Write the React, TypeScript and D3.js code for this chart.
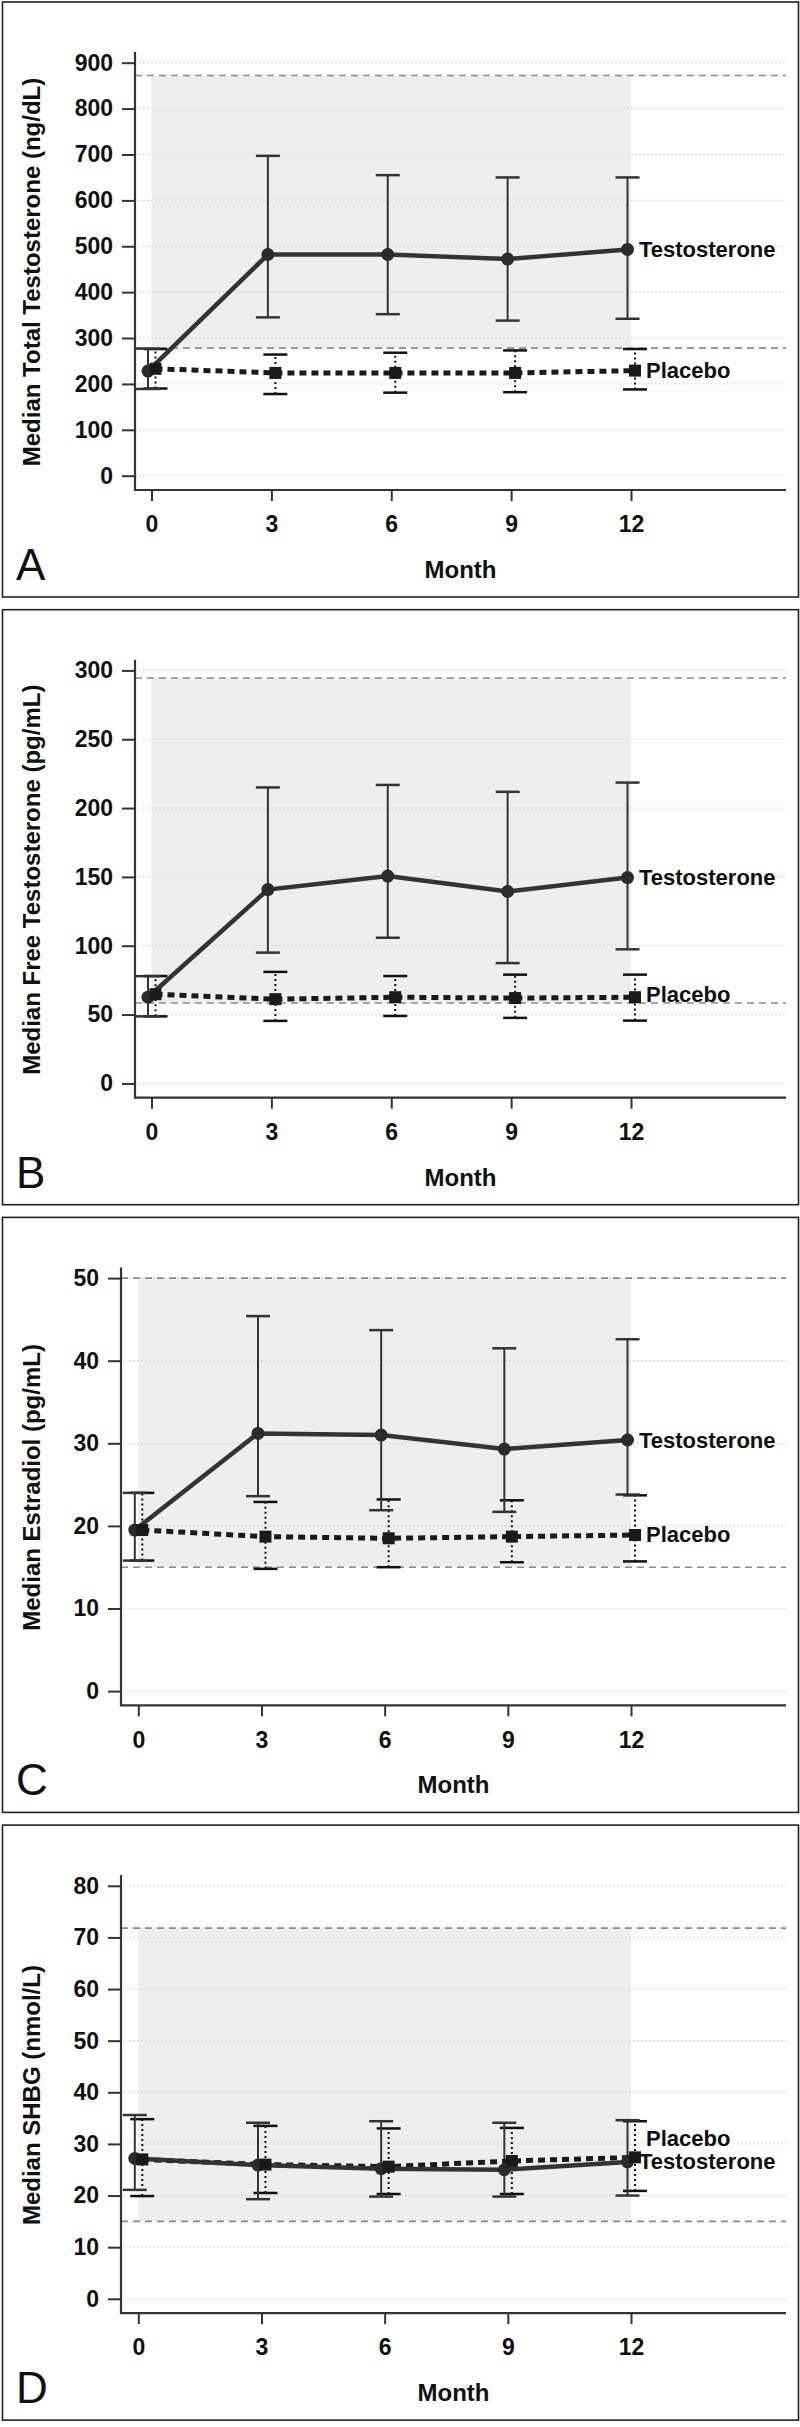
import { useEffect, useRef } from "react";
import * as d3 from "d3";

// shared x categories
const months = [0, 3, 6, 9, 12];

// A - total testosterone (ng/dL)
const totalTestosterone = [228, 482, 482, 472, 493];
const totalTestosteroneLow = [189, 345, 352, 338, 342];
const totalTestosteroneHigh = [277, 697, 655, 650, 650];
const totalPlacebo = [233, 224, 224, 224, 229];
const totalPlaceboLow = [190, 178, 181, 182, 188];
const totalPlaceboHigh = [276, 264, 268, 273, 276];
const totalRefRange = [278, 872];
const totalTicks = [0, 100, 200, 300, 400, 500, 600, 700, 800, 900];

// B - free testosterone (pg/mL)
const freeTestosterone = [62.6, 140.8, 150.6, 139.4, 149.5];
const freeTestosteroneLow = [48.7, 95, 105.8, 87.4, 97.4];
const freeTestosteroneHigh = [77.9, 215, 216.8, 211.8, 218.5];
const freePlacebo = [64.8, 61.2, 62.6, 62, 62.6];
const freePlaceboLow = [48.7, 45.4, 49, 47.6, 45.6];
const freePlaceboHigh = [78, 81, 78, 79, 79];
const freeRefRange = [58.4, 294.5];
const freeTicks = [0, 50, 100, 150, 200, 250, 300];

// C - estradiol (pg/mL)
const estradiolTestosterone = [19.5, 31.2, 31.0, 29.3, 30.4];
const estradiolTestosteroneLow = [15.8, 23.6, 21.9, 21.7, 23.8];
const estradiolTestosteroneHigh = [24.0, 45.4, 43.7, 41.5, 42.6];
const estradiolPlacebo = [19.5, 18.7, 18.5, 18.7, 18.9];
const estradiolPlaceboLow = [15.8, 14.8, 15.0, 15.6, 15.7];
const estradiolPlaceboHigh = [24.0, 22.9, 23.2, 23.1, 23.7];
const estradiolRefRange = [15, 50];
const estradiolTicks = [0, 10, 20, 30, 40, 50];

// D - SHBG (nmol/L)
const shbgTestosterone = [27.2, 25.9, 25.2, 25.0, 26.5];
const shbgTestosteroneLow = [21.1, 19.3, 19.8, 19.8, 20.0];
const shbgTestosteroneHigh = [35.6, 34.1, 34.4, 34.1, 34.6];
const shbgPlacebo = [27.0, 26.0, 25.6, 26.7, 27.4];
const shbgPlaceboLow = [19.9, 20.5, 20.3, 20.3, 20.9];
const shbgPlaceboHigh = [34.8, 33.5, 33.0, 33.1, 34.4];
const shbgRefRange = [15, 71.8];
const shbgTicks = [0, 10, 20, 30, 40, 50, 60, 70, 80];

// where the end labels sit (value units)
const labelTestosterone = [493, 149.5, 30.4, 26.6];
const labelPlacebo = [231, 64.8, 19, 31.1];

const panelLetters = ["A", "B", "C", "D"];
const yTitles = [
  "Median Total Testosterone (ng/dL)",
  "Median Free Testosterone (pg/mL)",
  "Median Estradiol (pg/mL)",
  "Median SHBG (nmol/L)",
];

const FONT = "'Liberation Sans', Arial, Helvetica, sans-serif";

interface Panel {
  letter: string;
  title: string;
  ticks: number[];
  ref: number[];
  t: number[];
  tLow: number[];
  tHigh: number[];
  p: number[];
  pLow: number[];
  pHigh: number[];
  labelT: number;
  labelP: number;
  narrow: boolean;
}

const panels: Panel[] = [
  {
    letter: panelLetters[0], title: yTitles[0], ticks: totalTicks, ref: totalRefRange,
    t: totalTestosterone, tLow: totalTestosteroneLow, tHigh: totalTestosteroneHigh,
    p: totalPlacebo, pLow: totalPlaceboLow, pHigh: totalPlaceboHigh,
    labelT: labelTestosterone[0], labelP: labelPlacebo[0], narrow: false,
  },
  {
    letter: panelLetters[1], title: yTitles[1], ticks: freeTicks, ref: freeRefRange,
    t: freeTestosterone, tLow: freeTestosteroneLow, tHigh: freeTestosteroneHigh,
    p: freePlacebo, pLow: freePlaceboLow, pHigh: freePlaceboHigh,
    labelT: labelTestosterone[1], labelP: labelPlacebo[1], narrow: false,
  },
  {
    letter: panelLetters[2], title: yTitles[2], ticks: estradiolTicks, ref: estradiolRefRange,
    t: estradiolTestosterone, tLow: estradiolTestosteroneLow, tHigh: estradiolTestosteroneHigh,
    p: estradiolPlacebo, pLow: estradiolPlaceboLow, pHigh: estradiolPlaceboHigh,
    labelT: labelTestosterone[2], labelP: labelPlacebo[2], narrow: true,
  },
  {
    letter: panelLetters[3], title: yTitles[3], ticks: shbgTicks, ref: shbgRefRange,
    t: shbgTestosterone, tLow: shbgTestosteroneLow, tHigh: shbgTestosteroneHigh,
    p: shbgPlacebo, pLow: shbgPlaceboLow, pHigh: shbgPlaceboHigh,
    labelT: labelTestosterone[3], labelP: labelPlacebo[3], narrow: true,
  },
];

const PANEL_STEP = 607.7;
const RIGHT = 786;

const drawPanel = (
  svg: d3.Selection<SVGSVGElement, unknown, null, undefined>,
  p: Panel,
  top: number,
) => {
  const g = svg.append("g").attr("transform", `translate(0,${top})`);
  const axisX = p.narrow ? 121 : 135;
  const x = d3
    .scaleLinear()
    .domain([0, 12])
    .range(p.narrow ? [138.3, 631] : [151.5, 631]);
  const yMax = p.ticks[p.ticks.length - 1];
  const y = d3.scaleLinear().domain([0, yMax]).range([473.7, 60.7]);

  // frame
  g.append("rect")
    .attr("x", 2.5)
    .attr("y", 0)
    .attr("width", 796)
    .attr("height", 595)
    .attr("fill", "white")
    .attr("stroke", "#222")
    .attr("stroke-width", 1.6);

  // reference range shading
  g.append("rect")
    .attr("x", x(0))
    .attr("y", y(p.ref[1]))
    .attr("width", x(12) - x(0))
    .attr("height", y(p.ref[0]) - y(p.ref[1]))
    .attr("fill", "#eeeeee");

  // dotted grid
  g.append("g")
    .selectAll("line")
    .data(p.ticks)
    .join("line")
    .attr("x1", axisX)
    .attr("x2", RIGHT)
    .attr("y1", (d) => y(d))
    .attr("y2", (d) => y(d))
    .attr("stroke", "#cfcfcf")
    .attr("stroke-width", 1.2)
    .attr("stroke-dasharray", "1.5,2.5");

  // reference dashed lines
  g.append("g")
    .selectAll("line")
    .data(p.ref)
    .join("line")
    .attr("x1", axisX)
    .attr("x2", RIGHT)
    .attr("y1", (d) => y(d))
    .attr("y2", (d) => y(d))
    .attr("stroke", "#8a8a8a")
    .attr("stroke-width", 1.6)
    .attr("stroke-dasharray", "7,5");

  // axes
  g.append("g")
    .attr("transform", `translate(${axisX},0)`)
    .call(d3.axisLeft(y).tickValues(p.ticks).tickSize(13).tickPadding(9))
    .call((a) => {
      a.select(".domain").remove();
      a.selectAll(".tick line").attr("stroke", "#333").attr("stroke-width", 2);
      a.selectAll("text")
        .attr("fill", "#111")
        .style("font-family", FONT)
        .style("font-size", "23px")
        .style("font-weight", "bold");
    });

  g.append("g")
    .attr("transform", `translate(0,488)`)
    .call(d3.axisBottom(x).tickValues(months).tickSize(11).tickPadding(15))
    .call((a) => {
      a.select(".domain").remove();
      a.selectAll(".tick line").attr("stroke", "#333").attr("stroke-width", 2);
      a.selectAll("text")
        .attr("fill", "#111")
        .style("font-family", FONT)
        .style("font-size", "23px")
        .style("font-weight", "bold");
    });

  g.append("path")
    .attr("d", `M${axisX},50V488H${RIGHT}`)
    .attr("fill", "none")
    .attr("stroke", "#333")
    .attr("stroke-width", 2.2);

  const tOff = -3.5;
  const pOff = 4;
  const capHalf = 12;

  // placebo error bars (dotted stems)
  const pBars = g.append("g");
  months.forEach((m, i) => {
    const cx = x(m) + pOff;
    pBars
      .append("line")
      .attr("x1", cx)
      .attr("x2", cx)
      .attr("y1", y(p.pLow[i]))
      .attr("y2", y(p.pHigh[i]))
      .attr("stroke", "#111")
      .attr("stroke-width", 2)
      .attr("stroke-dasharray", "2,3");
    [p.pLow[i], p.pHigh[i]].forEach((v) =>
      pBars
        .append("line")
        .attr("x1", cx - capHalf)
        .attr("x2", cx + capHalf)
        .attr("y1", y(v))
        .attr("y2", y(v))
        .attr("stroke", "#111")
        .attr("stroke-width", 2.5),
    );
  });

  // testosterone error bars
  const tBars = g.append("g");
  months.forEach((m, i) => {
    const cx = x(m) + tOff;
    tBars
      .append("line")
      .attr("x1", cx)
      .attr("x2", cx)
      .attr("y1", y(p.tLow[i]))
      .attr("y2", y(p.tHigh[i]))
      .attr("stroke", "#333")
      .attr("stroke-width", 2);
    [p.tLow[i], p.tHigh[i]].forEach((v) =>
      tBars
        .append("line")
        .attr("x1", cx - capHalf)
        .attr("x2", cx + capHalf)
        .attr("y1", y(v))
        .attr("y2", y(v))
        .attr("stroke", "#333")
        .attr("stroke-width", 2.5),
    );
  });

  // lines
  const pLine = d3
    .line<number>()
    .x((_, i) => x(months[i]) + pOff)
    .y((d) => y(d));
  const tLine = d3
    .line<number>()
    .x((_, i) => x(months[i]) + tOff)
    .y((d) => y(d));

  g.append("path")
    .attr("d", pLine(p.p))
    .attr("fill", "none")
    .attr("stroke", "#1a1a1a")
    .attr("stroke-width", 5)
    .attr("stroke-dasharray", "7,5");

  g.append("path")
    .attr("d", tLine(p.t))
    .attr("fill", "none")
    .attr("stroke", "#333")
    .attr("stroke-width", 4.5);

  g.append("g")
    .selectAll("circle")
    .data(p.t)
    .join("circle")
    .attr("cx", (_, i) => x(months[i]) + tOff)
    .attr("cy", (d) => y(d))
    .attr("r", 6.5)
    .attr("fill", "#2b2b2b");

  g.append("g")
    .selectAll("rect")
    .data(p.p)
    .join("rect")
    .attr("x", (_, i) => x(months[i]) + pOff - 6)
    .attr("y", (d) => y(d) - 6)
    .attr("width", 12)
    .attr("height", 12)
    .attr("fill", "#1a1a1a");

  // end labels
  g.append("text")
    .attr("x", x(12) + 8)
    .attr("y", y(p.labelT))
    .attr("dy", "0.36em")
    .attr("fill", "#111")
    .style("font-family", FONT)
    .style("font-size", "22px")
    .style("font-weight", "bold")
    .text("Testosterone");

  g.append("text")
    .attr("x", x(12) + 15)
    .attr("y", y(p.labelP))
    .attr("dy", "0.36em")
    .attr("fill", "#111")
    .style("font-family", FONT)
    .style("font-size", "22px")
    .style("font-weight", "bold")
    .text("Placebo");

  // titles
  g.append("text")
    .attr("transform", `translate(40,270) rotate(-90)`)
    .attr("text-anchor", "middle")
    .attr("fill", "#111")
    .style("font-family", FONT)
    .style("font-size", "24px")
    .style("font-weight", "bold")
    .text(p.title);

  g.append("text")
    .attr("x", (axisX + RIGHT) / 2)
    .attr("y", 576)
    .attr("text-anchor", "middle")
    .attr("fill", "#111")
    .style("font-family", FONT)
    .style("font-size", "24px")
    .style("font-weight", "bold")
    .text("Month");

  g.append("text")
    .attr("x", 16)
    .attr("y", 578)
    .attr("fill", "#111")
    .style("font-family", FONT)
    .style("font-size", "44px")
    .text(p.letter);
};

const App = () => {
  const svgRef = useRef<SVGSVGElement | null>(null);

  useEffect(() => {
    const svg = d3.select(svgRef.current as SVGSVGElement);
    svg.selectAll("*").remove();
    panels.forEach((p, i) => drawPanel(svg, p, 2 + i * PANEL_STEP));
  }, []);

  return (
    <svg
      ref={svgRef}
      width={800}
      height={2427}
      style={{ position: "absolute", left: 0, top: 0, background: "white" }}
    />
  );
};

export default App;
